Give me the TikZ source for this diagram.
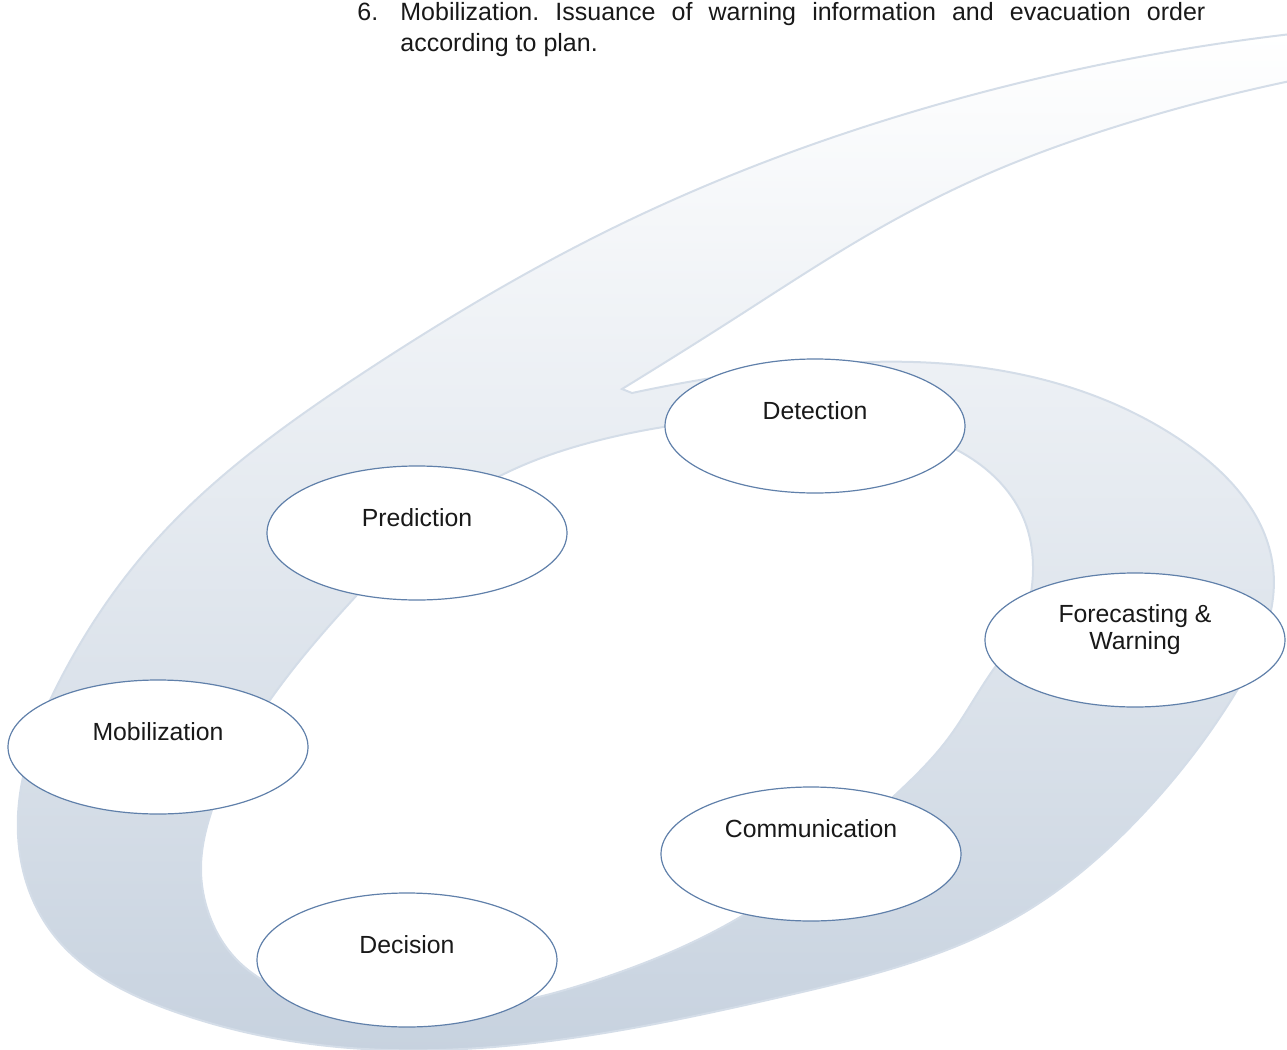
\documentclass[tikz,border=0pt]{standalone}
\usepackage{fontspec}
\setmainfont{Liberation Sans}
\usetikzlibrary{shapes.geometric,hobby}
\definecolor{bandbot}{RGB}{199,210,223}
\definecolor{bandedge}{RGB}{212,221,232}
\definecolor{ellline}{RGB}{96,128,170}
\definecolor{ink}{RGB}{25,25,25}
\begin{document}
\frenchspacing
\begin{tikzpicture}[x=0.5pt,y=-0.5pt,
  stage/.style={ellipse, draw=ellline, line width=0.6pt, fill=white,
    minimum width=150pt, minimum height=67pt, inner sep=0pt},
  stagelabel/.style={font=\fontsize{12.4}{13.5}\selectfont, inner sep=0pt,
    anchor=base, text=ink},
  band/.style={draw=bandedge, line width=1pt, even odd rule,
    top color=white, bottom color=bandbot}]
\useasboundingbox (0,0) rectangle (1287,1050);
\clip (0,0) rectangle (1287,1050);

% swoosh band
\path[band]
  (1300,33) to[curve through={(929,107) .. (615,227) .. (363,373) .. (150,547)
    .. (60,680) .. (18,815) .. (50,930) .. (170,1010) .. (350,1048)
    .. (550,1041) .. (785,996) .. (1020,915) .. (1140,817) .. (1233,697)
    .. (1273,567) .. (1185,443) .. (960,365) .. (760,371)}] (632,393)
  -- (622,389)
  to[curve through={(740,315) .. (866,236) .. (992,172) .. (1118,126)}] (1300,79)
  -- cycle
  (400,1011) to[curve through={(300,997) .. (237,960) .. (210,917) .. (201,867)
    .. (212,810) .. (270,700) .. (357,595) .. (480,487) .. (600,440)
    .. (700,422) .. (860,422) .. (957,450) .. (1023,517) .. (1033,570)
    .. (1015,638) .. (993,670) .. (947,740) .. (893,797) .. (747,913)
    .. (597,980) .. (500,1005)}] (400,1011);

% top text
\node[anchor=base west, inner sep=0pt, align=left, text=ink,
  font=\fontsize{12.5}{15.5}\selectfont] (note) at (357,51)
  {\makebox[21.5pt][l]{6.}\makebox[402.5pt][s]{Mobilization. Issuance of warning information and evacuation order}\\
   \hspace*{21.5pt}according to plan.};

% stages
\node[stage] (det) at (815,426) {};
\node[stage] (pre) at (417,533) {};
\node[stage] (fw)  at (1135,640) {};
\node[stage] (mob) at (158,747) {};
\node[stage] (com) at (811,854) {};
\node[stage] (dec) at (407,960) {};

\node[stagelabel] (detl) at (815,419) {Detection};
\node[stagelabel] (prel) at (417,526) {Prediction};
\node[stagelabel, align=center, anchor=center] (fwl) at (1135,630) {Forecasting \&\\Warning};
\node[stagelabel] (mobl) at (158,740) {Mobilization};
\node[stagelabel] (coml) at (811,837) {Communication};
\node[stagelabel] (decl) at (407,953) {Decision};
\end{tikzpicture}
\end{document}
